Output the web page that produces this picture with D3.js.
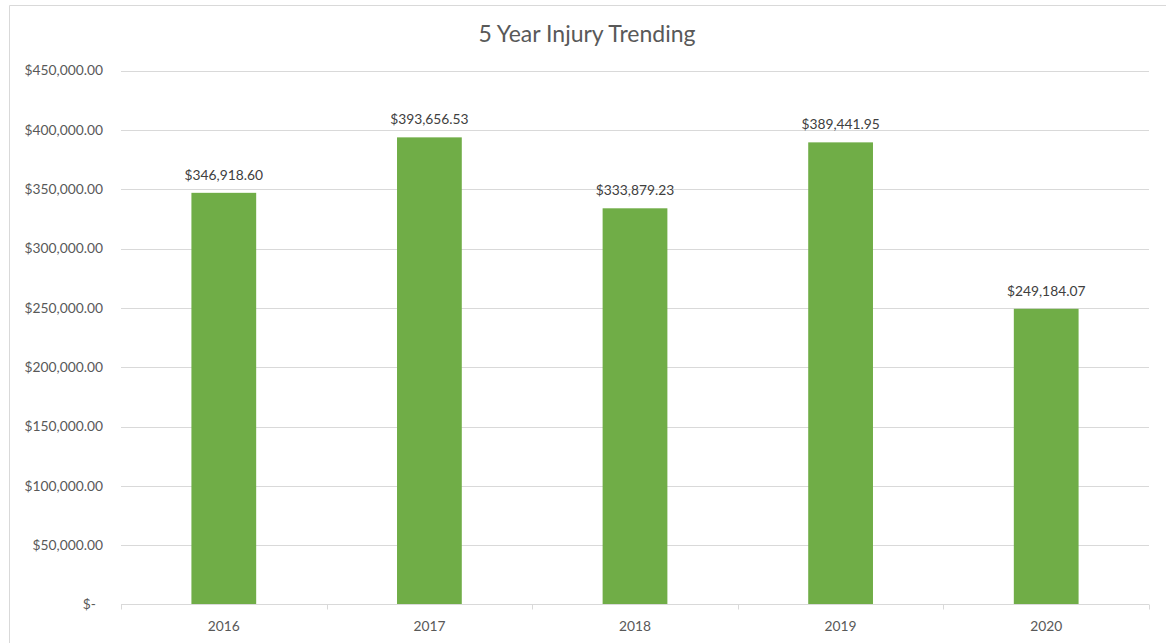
<!DOCTYPE html>
<html><head><meta charset="utf-8">
<script src="https://cdnjs.cloudflare.com/ajax/libs/d3/7.8.5/d3.min.js"></script>
<style>body{margin:0;background:#fff;}svg{display:block;}text{font-family:Lato,"Open Sans",sans-serif;}</style>
</head><body>
<script>
const categories = ["2016","2017","2018","2019","2020"];
const values = [346918.60, 393656.53, 333879.23, 389441.95, 249184.07];
const yTicks = [0,50000,100000,150000,200000,250000,300000,350000,400000,450000];
const title = "5 Year Injury Trending";

const W = 1166, H = 643;
const svg = d3.select("body").append("svg").attr("width", W).attr("height", H);
// chart frame
svg.append("line").attr("x1",9.5).attr("x2",W).attr("y1",5.5).attr("y2",5.5).attr("stroke","#d9d9d9");
svg.append("line").attr("x1",9.5).attr("x2",9.5).attr("y1",5.5).attr("y2",H).attr("stroke","#d9d9d9");

const x = d3.scaleBand().domain(categories).range([121,1149]).paddingInner(0.685).paddingOuter(0.3425);
const y = d3.scaleLinear().domain([0,450000]).range([604.5,70.5]);

const fmt = d3.format(",.2f");
const money = v => v === 0 ? "$-" : "$" + fmt(v);

// gridlines
svg.append("g").selectAll("line").data(yTicks.filter(d=>d>0)).join("line")
  .attr("x1",121).attr("x2",1149).attr("y1",d=>Math.round(y(d))+0.5).attr("y2",d=>Math.round(y(d))+0.5)
  .attr("stroke","#d9d9d9").attr("stroke-width",1);

// y labels
svg.append("g").selectAll("text").data(yTicks).join("text")
  .attr("x", d=> d===0 ? 96 : 103).attr("y",d=>y(d)).attr("dy","0.35em")
  .attr("text-anchor","end").attr("font-size",13.8).attr("fill","#595959")
  .text(money);

// bars
svg.append("g").selectAll("rect").data(values).join("rect")
  .attr("x",(d,i)=>x(categories[i])).attr("width",x.bandwidth())
  .attr("y",d=>y(d)).attr("height",d=>y(0)-y(d)).attr("fill","#70ad47");

// value labels
svg.append("g").selectAll("text").data(values).join("text")
  .attr("x",(d,i)=>x(categories[i])+x.bandwidth()/2).attr("y",d=>y(d)-18)
  .attr("dy","0.35em")
  .attr("text-anchor","middle").attr("font-size",13.8).attr("fill","#404040")
  .text(money);

// x axis
const xAxisLine = svg.append("g");
xAxisLine.append("line").attr("x1",121).attr("x2",1149).attr("y1",604.5).attr("y2",604.5).attr("stroke","#d9d9d9");
const bounds = d3.range(categories.length+1).map(i=>121 + i*(1028/categories.length));
xAxisLine.selectAll(".tk").data(bounds).join("line")
  .attr("x1",d=>Math.round(d)+0.5).attr("x2",d=>Math.round(d)+0.5).attr("y1",604.5).attr("y2",609.5).attr("stroke","#d9d9d9");
svg.append("g").selectAll("text").data(categories).join("text")
  .attr("x",d=>x(d)+x.bandwidth()/2).attr("y",626).attr("dy","0.35em")
  .attr("text-anchor","middle").attr("font-size",13.8).attr("fill","#595959").text(d=>d);

svg.append("text").attr("x",587).attr("y",34).attr("dy","0.35em").attr("text-anchor","middle")
  .attr("font-size",23).attr("fill","#595959").text(title);
</script>
</body></html>
